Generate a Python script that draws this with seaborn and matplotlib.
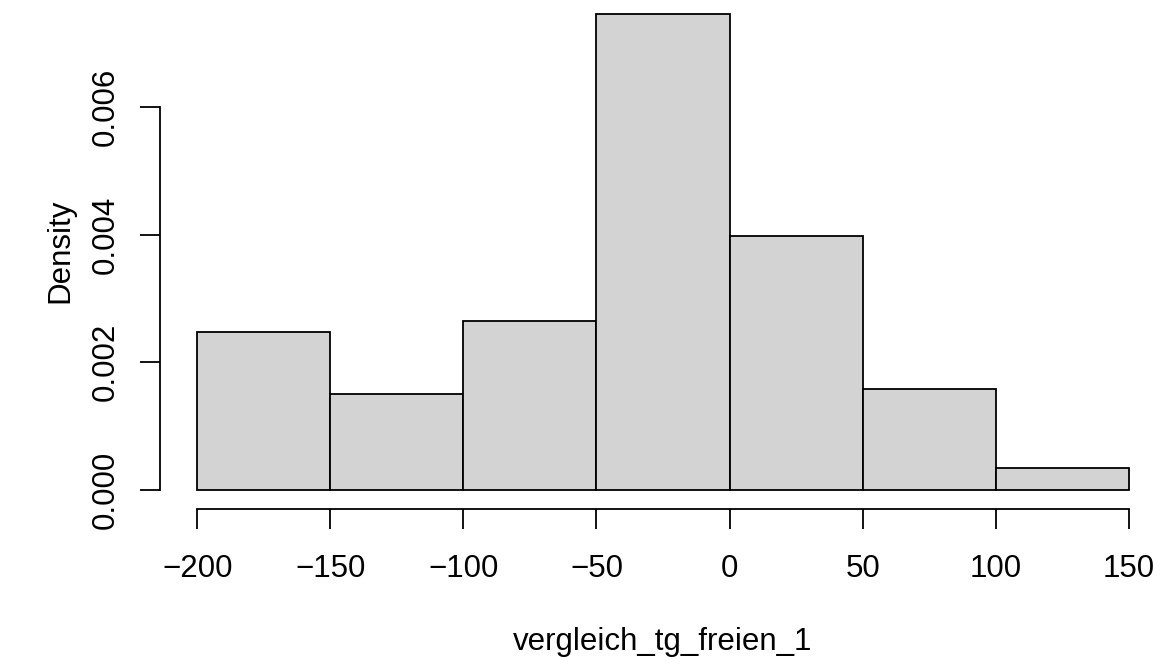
import numpy as np
import pandas as pd
import matplotlib
matplotlib.use('Agg')
import matplotlib.pyplot as plt
import seaborn as sns

# ==================== DATA ====================
# Bin edges of the histogram (width 50)
bin_edges = [-200, -150, -100, -50, 0, 50, 100, 150]
# Density per bin
densities = [0.00248, 0.00150, 0.00265, 0.00745, 0.00398, 0.00158, 0.00035]
x_ticks = [-200, -150, -100, -50, 0, 50, 100, 150]
y_ticks = [0.000, 0.002, 0.004, 0.006]
x_label = 'vergleich_tg_freien_1'
y_label = 'Density'

bin_mids = [(a + b) / 2 for a, b in zip(bin_edges[:-1], bin_edges[1:])]
df = pd.DataFrame({'value': bin_mids, 'density': densities})

# ==================== STYLE ====================
sns.set_style('white')
plt.rcParams['font.family'] = ['Liberation Sans', 'DejaVu Sans']
plt.rcParams['axes.unicode_minus'] = True
FS = 22.5

# ==================== PLOT ====================
fig = plt.figure(figsize=(11.66, 6.64), dpi=100)
# plot region: left edge x=160px, bottom y=509px, top slightly above the image
ax = fig.add_axes([160 / 1166, (664 - 509) / 664, 1006 / 1166, 517 / 664])

sns.histplot(data=df, x='value', weights='density', bins=bin_edges,
             stat='count', color='#D3D3D3', edgecolor='black',
             linewidth=1.3, alpha=1, ax=ax)

# R-like axis extents (4% padding)
x_span = bin_edges[-1] - bin_edges[0]
ax.set_xlim(bin_edges[0] - 0.04 * x_span, bin_edges[-1] + 0.04 * x_span)
y_max = 0.0075
ax.set_ylim(-0.04 * y_max, 1.04 * y_max)

# R base graphics style axes
for side in ['top', 'right']:
    ax.spines[side].set_visible(False)
ax.spines['left'].set_bounds(y_ticks[0], y_ticks[-1])
ax.spines['bottom'].set_bounds(x_ticks[0], x_ticks[-1])
for side in ['left', 'bottom']:
    ax.spines[side].set_linewidth(1.3)
    ax.spines[side].set_color('black')

ax.set_xticks(x_ticks)
ax.set_xticklabels([str(t).replace('-', '\u2212') for t in x_ticks])
ax.set_yticks(y_ticks)
ax.set_yticklabels([f'{t:.3f}' for t in y_ticks], rotation=90, va='center')
ax.tick_params(axis='both', direction='out', length=14.5, width=1.3,
               labelsize=FS, color='black', labelcolor='black',
               bottom=True, left=True)
ax.tick_params(axis='x', pad=18)
ax.tick_params(axis='y', pad=14)

ax.set_xlabel(x_label, fontsize=FS, labelpad=31, color='black')
ax.set_ylabel(y_label, fontsize=FS, labelpad=11, color='black')
ax.grid(False)

plt.savefig('out.png', dpi=100, facecolor='white')
plt.close()
